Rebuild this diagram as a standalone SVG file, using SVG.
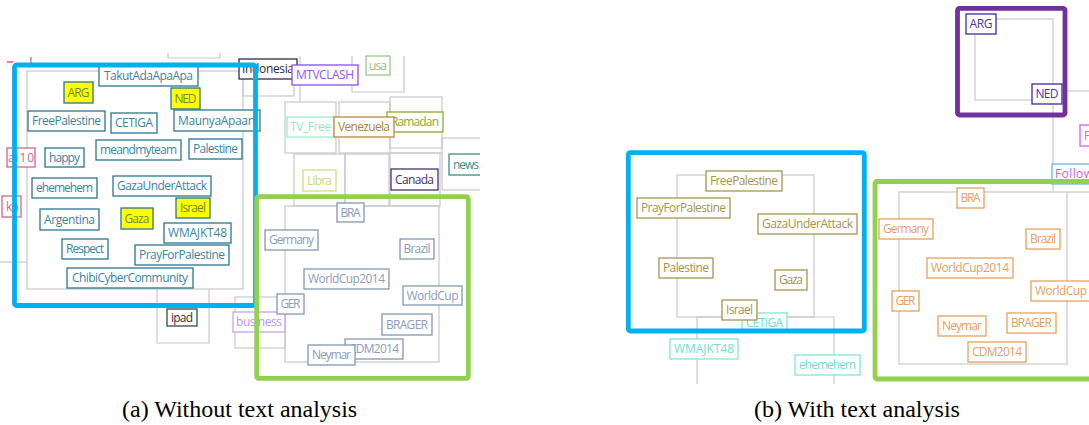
<svg xmlns="http://www.w3.org/2000/svg" width="1089" height="425" viewBox="0 0 1089 425">
<defs>
<clipPath id="leftClip"><rect x="0" y="0" width="480" height="390"/></clipPath>
<style>
.fr{fill:none;stroke:#c8c8c8;stroke-width:1.2}
.big{fill:none;stroke-width:4.8;stroke-linejoin:round}
text.l{font-family:"Open Sans","Noto Sans",sans-serif;font-size:12px;text-anchor:middle}
text.ls{font-family:"Open Sans","Noto Sans",sans-serif;font-size:12px}
.n rect{fill:#fff;stroke-width:1.3}
.teal rect{stroke:#2a7591}.teal text{fill:#3a86a2}
.yel rect{fill:#ffff00;stroke:#2a7591}.yel text{fill:#6e8a30}
.slate rect{stroke:#8297b5}.slate text{fill:#8d9dba}
.orng rect{stroke:#e9a257}.orng text{fill:#e6a062}
.olv rect{stroke:#a8944c}.olv text{fill:#a8944c}
.mint rect{stroke:#80e6d4}.mint text{fill:#74dcc9}
.indg rect{stroke:#3a2aa8}.indg text{fill:#4636b0}
.pink rect{stroke:#d8628c}.pink text{fill:#d8628c}
.mag rect{stroke:#d65ef0}.mag text{fill:#d65ef0}
text.cap{font-family:"Liberation Serif","Times New Roman",serif;font-size:24px;fill:#000}
</style>
</defs>
<rect width="1089" height="425" fill="#fff"/>

<!-- ===== Panel (a) ===== -->
<g id="panel-a" clip-path="url(#leftClip)">
<g id="frames-a">
<rect class="fr" x="27" y="71" width="216" height="218"/>
<path class="fr" d="M0,262 H27"/>
<path class="fr" d="M168,53 V58 H220 V53"/>
<path class="fr" d="M300,56 V102"/>
<path class="fr" d="M352,56 V92 H404 V56"/>
<rect class="fr" x="243" y="62" width="51" height="34"/>
<rect class="fr" x="285" y="102" width="51" height="51"/>
<rect class="fr" x="339" y="102" width="51" height="51"/>
<rect class="fr" x="390" y="97" width="52" height="51"/>
<path class="fr" d="M390,153 H442"/>
<rect class="fr" x="294" y="154" width="51" height="52"/>
<rect class="fr" x="345" y="154" width="44" height="52"/>
<rect class="fr" x="390" y="153" width="50" height="53"/>
<rect class="fr" x="442" y="138" width="42" height="52"/>
<rect class="fr" x="285" y="206" width="154" height="156"/>
<path class="fr" d="M157,289 V343 H209 V289"/>
<rect class="fr" x="235" y="297" width="50" height="51"/>
<path d="M7,62 H13 M31,57 V64" fill="none" stroke="#d8628c" stroke-width="1.3"/>
</g>

<g id="a-ai10" class="n pink"><rect x="7" y="148" width="28" height="19"/><text class="ls" x="8" y="162" textLength="26">ai10</text></g>
<g id="a-ka" class="n pink"><rect x="2" y="196" width="19" height="21"/><text class="ls" x="6" y="211" textLength="13">ka</text></g>
<g id="a-Indonesia" class="n"><rect x="239" y="59" width="58" height="20" style="stroke:#35294a"/><text class="l" x="268" y="73.2" textLength="52" style="fill:#2e2642">Indonesia</text></g>
<g id="a-MTVCLASH" class="n"><rect x="292" y="65" width="66" height="20" style="stroke:#8a4cf2"/><text class="l" x="325" y="79.2" textLength="58" style="fill:#9058f5">MTVCLASH</text></g>
<g id="a-usa" class="n"><rect x="366" y="56" width="24" height="19" style="stroke:#9cc890"/><text class="l" x="378" y="69.7" textLength="18" style="fill:#90c080">usa</text></g>
<g id="a-TV_Free" class="n"><rect x="287" y="117" width="47" height="20" style="stroke:#98f0cc"/><text class="l" x="310.5" y="131.2" textLength="41" style="fill:#8ee8c4">TV_Free</text></g>
<g id="a-Ramadan" class="n"><rect x="387" y="112" width="56" height="20" style="stroke:#8ea832"/><text class="l" x="415" y="126.2" textLength="48" style="fill:#8ea832">Ramadan</text></g>
<g id="a-Venezuela" class="n"><rect x="334" y="117" width="60" height="20" style="stroke:#b88a30"/><text class="l" x="364" y="131.2" textLength="52" style="fill:#b08630">Venezuela</text></g>
<g id="a-Libra" class="n"><rect x="303" y="170" width="33" height="21" style="stroke:#cce080"/><text class="l" x="319.5" y="184.7" textLength="25" style="fill:#c4da74">Libra</text></g>
<g id="a-Canada" class="n"><rect x="391" y="169" width="47" height="21" style="stroke:#45306e"/><text class="l" x="414.5" y="183.7" textLength="39" style="fill:#45306e">Canada</text></g>
<g id="a-news" class="n"><rect x="449" y="154" width="34" height="21" style="stroke:#3a9090"/><text class="ls" x="453" y="168.7" textLength="26" style="fill:#3a8c8c">news</text></g>
<g id="a-ipad" class="n"><rect x="167" y="309" width="30" height="17" style="stroke:#3c4a42"/><text class="l" x="182" y="321.5" textLength="22" style="fill:#333">ipad</text></g>
<g id="a-business" class="n"><rect x="233" y="312" width="52" height="20" style="stroke:#c8a0f8"/><text class="l" x="259" y="326.2" textLength="46" style="fill:#bc94f4">business</text></g>

<g id="a-TakutAdaApaApa" class="n teal"><rect x="99" y="66" width="99" height="20"/><text class="l" x="148.5" y="80.2" textLength="89">TakutAdaApaApa</text></g>
<g id="a-ARG" class="n yel"><rect x="64" y="82" width="29" height="21"/><text class="l" x="78.5" y="96.7" textLength="22">ARG</text></g>
<g id="a-NED" class="n yel"><rect x="171" y="88" width="29" height="21"/><text class="l" x="185.5" y="102.7" textLength="22">NED</text></g>
<g id="a-FreePalestine" class="n teal"><rect x="28" y="111" width="77" height="20"/><text class="l" x="66.5" y="125.2" textLength="69">FreePalestine</text></g>
<g id="a-CETIGA" class="n teal"><rect x="111" y="113" width="46" height="20"/><text class="l" x="134" y="127.2" textLength="38">CETIGA</text></g>
<g id="a-MaunyaApaan" class="n teal"><rect x="174" y="110" width="86" height="21"/><text class="ls" x="178" y="124.7" textLength="77">MaunyaApaan</text></g>
<g id="a-happy" class="n teal"><rect x="45" y="148" width="39" height="19"/><text class="l" x="64.5" y="161.7" textLength="31">happy</text></g>
<g id="a-meandmyteam" class="n teal"><rect x="96" y="140" width="85" height="20"/><text class="l" x="138.5" y="154.2" textLength="77">meandmyteam</text></g>
<g id="a-Palestine" class="n teal"><rect x="189" y="139" width="53" height="20"/><text class="l" x="215.5" y="153.2" textLength="45">Palestine</text></g>
<g id="a-ehemehem" class="n teal"><rect x="32" y="178" width="65" height="20"/><text class="l" x="64.5" y="192.2" textLength="57">ehemehem</text></g>
<g id="a-GazaUnderAttack" class="n teal"><rect x="113" y="176" width="98" height="20"/><text class="l" x="162" y="190.2" textLength="90">GazaUnderAttack</text></g>
<g id="a-Israel" class="n yel"><rect x="176" y="198" width="34" height="20"/><text class="l" x="193" y="212.2" textLength="26">Israel</text></g>
<g id="a-Argentina" class="n teal"><rect x="40" y="209" width="59" height="21"/><text class="l" x="69.5" y="223.7" textLength="51">Argentina</text></g>
<g id="a-Gaza" class="n yel"><rect x="121" y="208" width="32" height="21"/><text class="l" x="137" y="222.7" textLength="25">Gaza</text></g>
<g id="a-WMAJKT48" class="n teal"><rect x="164" y="223" width="67" height="20"/><text class="l" x="197.5" y="237.2" textLength="59">WMAJKT48</text></g>
<g id="a-Respect" class="n teal"><rect x="62" y="239" width="46" height="20"/><text class="l" x="85" y="253.2" textLength="38">Respect</text></g>
<g id="a-PrayForPalestine" class="n teal"><rect x="135" y="245" width="94" height="20"/><text class="l" x="182" y="259.2" textLength="86">PrayForPalestine</text></g>
<g id="a-ChibiCyberCommunity" class="n teal"><rect x="67" y="268" width="126" height="20"/><text class="l" x="130" y="282.2" textLength="116">ChibiCyberCommunity</text></g>

<g id="a-BRA" class="n slate"><rect x="337" y="203" width="27" height="19"/><text class="l" x="350.5" y="216.7" textLength="20">BRA</text></g>
<g id="a-Germany" class="n slate"><rect x="265" y="230" width="53" height="20"/><text class="l" x="291.5" y="244.2" textLength="45">Germany</text></g>
<g id="a-Brazil" class="n slate"><rect x="400" y="239" width="34" height="20"/><text class="l" x="417" y="253.2" textLength="27">Brazil</text></g>
<g id="a-WorldCup2014" class="n slate"><rect x="304" y="269" width="85" height="20"/><text class="l" x="346.5" y="283.2" textLength="77">WorldCup2014</text></g>
<g id="a-GER" class="n slate"><rect x="277" y="294" width="27" height="20"/><text class="l" x="290.5" y="308.2" textLength="20">GER</text></g>
<g id="a-WorldCup" class="n slate"><rect x="403" y="286" width="59" height="19"/><text class="l" x="432.5" y="299.7" textLength="52">WorldCup</text></g>
<g id="a-BRAGER" class="n slate"><rect x="382" y="314" width="50" height="21"/><text class="l" x="407" y="328.7" textLength="42">BRAGER</text></g>
<g id="a-CDM2014" class="n slate"><rect x="345" y="339" width="58" height="20"/><text class="l" x="374" y="353.2" textLength="50">CDM2014</text></g>
<g id="a-Neymar" class="n slate"><rect x="308" y="345" width="47" height="20"/><text class="l" x="331.5" y="359.2" textLength="39">Neymar</text></g>

<g id="a-clusters">
<rect class="big" x="14.5" y="65" width="241" height="240.5" rx="2" stroke="#00b0f0"/>
<rect class="big" x="256.7" y="196.7" width="211.6" height="181.6" rx="2" stroke="#92d050"/>
</g>
</g>

<!-- ===== Panel (b) ===== -->
<g id="panel-b">
<g id="frames-b">
<rect class="fr" x="975" y="19" width="78" height="81"/>
<path class="fr" d="M1066,91 H1089"/>
<path class="fr" d="M1053,100 V192"/>
<rect class="fr" x="899" y="192" width="168" height="172"/>
<path class="fr" d="M1067,192 H1089"/>
<rect class="fr" x="677" y="175" width="137" height="142"/>
<path class="fr" d="M697,384 V317 H834 V384"/>
</g>

<g id="b-ARG" class="n indg"><rect x="966" y="14" width="30" height="20"/><text class="l" x="981" y="28.2" textLength="23">ARG</text></g>
<g id="b-NED" class="n indg"><rect x="1032" y="84" width="30" height="20"/><text class="l" x="1047" y="98.2" textLength="23">NED</text></g>
<g id="b-F" class="n mag"><rect x="1080" y="125" width="20" height="21"/><text class="ls" x="1084" y="139.7">F</text></g>
<g id="b-Follow" class="n mag"><rect x="1052" y="164" width="50" height="20" style="stroke:#6cb4f2"/><text class="ls" x="1055" y="178.2" textLength="38">Follow</text></g>

<g id="b-CETIGA" class="n mint"><rect x="742" y="313" width="45" height="19"/><text class="l" x="764.5" y="326.7" textLength="37">CETIGA</text></g>
<g id="b-WMAJKT48" class="n mint"><rect x="670" y="339" width="68" height="20"/><text class="l" x="704" y="353.2" textLength="60">WMAJKT48</text></g>
<g id="b-ehemehem" class="n mint"><rect x="795" y="355" width="65" height="20"/><text class="l" x="827.5" y="369.2" textLength="57">ehemehem</text></g>

<g id="b-FreePalestine" class="n olv"><rect x="706" y="171" width="76" height="20"/><text class="l" x="744" y="185.2" textLength="68">FreePalestine</text></g>
<g id="b-PrayForPalestine" class="n olv"><rect x="637" y="198" width="93" height="20"/><text class="l" x="683.5" y="212.2" textLength="85">PrayForPalestine</text></g>
<g id="b-GazaUnderAttack" class="n olv"><rect x="758" y="214" width="99" height="20"/><text class="l" x="807.5" y="228.2" textLength="91">GazaUnderAttack</text></g>
<g id="b-Palestine" class="n olv"><rect x="659" y="258" width="54" height="20"/><text class="l" x="686" y="272.2" textLength="46">Palestine</text></g>
<g id="b-Gaza" class="n olv"><rect x="775" y="270" width="32" height="20"/><text class="l" x="791" y="284.2" textLength="24">Gaza</text></g>

<g id="b-clusters">
<rect class="big" x="628.3" y="152.7" width="236" height="178.3" rx="2" stroke="#00b0f0"/>
<rect class="big" x="957.5" y="8.3" width="107.5" height="106.7" rx="2" stroke="#7030a0"/>
<rect class="big" x="875" y="181.5" width="260" height="197.5" rx="2" stroke="#92d050"/>
</g>

<g id="b-Israel" class="n olv"><rect x="722" y="300" width="35" height="20"/><text class="l" x="739.5" y="314.2" textLength="27">Israel</text></g>

<g id="b-BRA" class="n orng"><rect x="957" y="188" width="27" height="20"/><text class="l" x="970.5" y="202.2" textLength="20">BRA</text></g>
<g id="b-Germany" class="n orng"><rect x="879" y="219" width="54" height="20"/><text class="l" x="906" y="233.2" textLength="46">Germany</text></g>
<g id="b-Brazil" class="n orng"><rect x="1026" y="229" width="34" height="20"/><text class="l" x="1043" y="243.2" textLength="26">Brazil</text></g>
<g id="b-WorldCup2014" class="n orng"><rect x="927" y="258" width="86" height="20"/><text class="l" x="970" y="272.2" textLength="78">WorldCup2014</text></g>
<g id="b-WorldCup" class="n orng"><rect x="1031" y="281" width="62" height="20"/><text class="ls" x="1035" y="295.2" textLength="52">WorldCup</text></g>
<g id="b-GER" class="n orng"><rect x="892" y="291" width="27" height="20"/><text class="l" x="905.5" y="305.2" textLength="20">GER</text></g>
<g id="b-Neymar" class="n orng"><rect x="938" y="316" width="48" height="20"/><text class="l" x="962" y="330.2" textLength="40">Neymar</text></g>
<g id="b-BRAGER" class="n orng"><rect x="1007" y="313" width="49" height="20"/><text class="l" x="1031.5" y="327.2" textLength="41">BRAGER</text></g>
<g id="b-CDM2014" class="n orng"><rect x="968" y="342" width="58" height="20"/><text class="l" x="997" y="356.2" textLength="50">CDM2014</text></g>
</g>

<g id="captions">
<text class="cap" x="122" y="417">(a) Without text analysis</text>
<text class="cap" x="754" y="417">(b) With text analysis</text>
</g>
</svg>
